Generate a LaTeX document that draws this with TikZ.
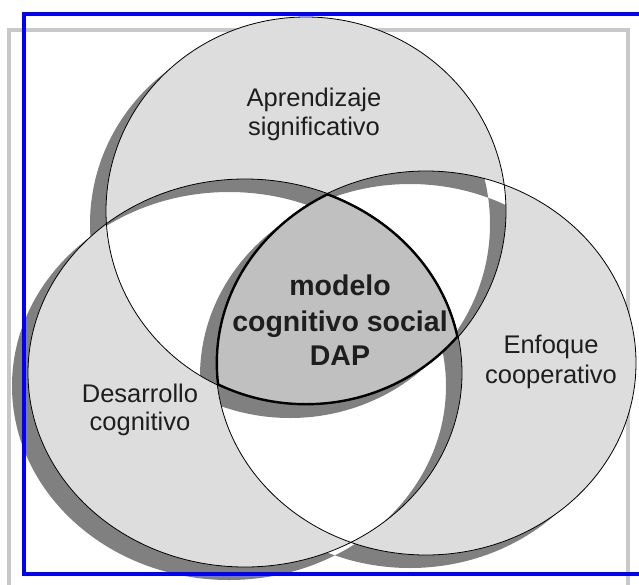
\documentclass[tikz,border=0pt]{standalone}
\usepackage{fontspec}
\setmainfont{Liberation Sans}
\definecolor{lightfill}{HTML}{DDDDDD}
\definecolor{lensfill}{HTML}{C0C0C0}
\definecolor{shadowgray}{HTML}{808080}
\definecolor{framegray}{HTML}{C8C8C8}
\definecolor{framegblue}{HTML}{0000FF}
\definecolor{textcol}{HTML}{1E1E1E}
\tikzset{
  lbl/.style={anchor=base, inner sep=0pt, text=textcol, font=\fontsize{25.5}{28}\selectfont},
  lenslbl/.style={anchor=base, inner sep=0pt, text=textcol, font=\bfseries\fontsize{28.5}{32}\selectfont},
  outline/.style={draw=black, line width=0.8pt},
}
\newcommand{\ellA}{(306,211) ellipse [x radius=200, y radius=194]}
\newcommand{\ellD}{(245,373) ellipse [x radius=217, y radius=194]}
\newcommand{\ellE}{(426,363) ellipse [x radius=210, y radius=192]}
\begin{document}
\begin{tikzpicture}[x=1pt,y=-1pt]
\useasboundingbox (0,0) rectangle (639,584);
% gray frame
\draw[framegray, line width=4pt] (9,30) rectangle (628,610);
% shadow of the even-odd shape
\begin{scope}[shift={(-16,13)}]
  \fill[shadowgray, even odd rule] \ellA \ellD \ellE;
\end{scope}
% light fill (regions in exactly one or three circles)
\fill[lightfill, even odd rule] \ellA \ellD \ellE;
% lens fill
\begin{scope}
  \clip \ellA;
  \clip \ellD;
  \fill[lensfill] \ellE;
\end{scope}
% thin outlines
\draw[outline] \ellA;
\draw[outline] \ellD;
\draw[outline] \ellE;
% thick lens outline
\begin{scope}
  \clip \ellA;
  \clip \ellD;
  \clip \ellE;
  \draw[black, line width=4pt] \ellA;
  \draw[black, line width=4pt] \ellD;
  \draw[black, line width=4pt] \ellE;
\end{scope}
% labels
\node[lbl] (a1) at (314,106) {Aprendizaje};
\node[lbl] (a2) at (314,135) {significativo};
\node[lbl] (d1) at (140,402) {Desarrollo};
\node[lbl] (d2) at (140,430) {cognitivo};
\node[lbl] (e1) at (551,353) {Enfoque};
\node[lbl] (e2) at (551,383) {cooperativo};
\node[lenslbl] (m1) at (340,295) {modelo};
\node[lenslbl] (m2) at (340,331) {cognitivo social};
\node[lenslbl] (m3) at (340,365) {DAP};
% blue frame
\draw[framegblue, line width=4pt] (24,14) rectangle (660,574);
\end{tikzpicture}
\end{document}
